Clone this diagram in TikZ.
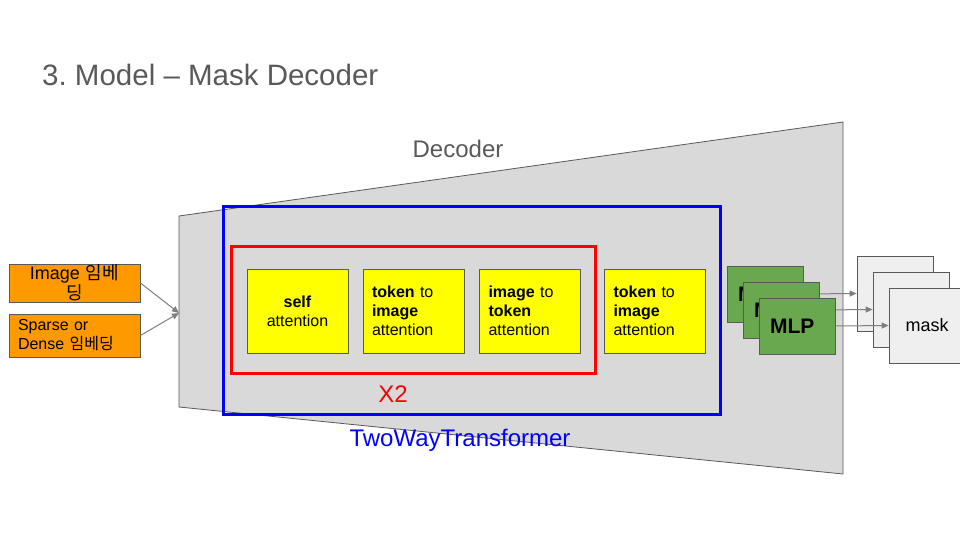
\documentclass[tikz,border=0pt]{standalone}
\usepackage{fontspec}
\setmainfont{Liberation Sans}
\newfontfamily\kofont{Noto Sans CJK KR}
\usetikzlibrary{arrows.meta}
\frenchspacing

\definecolor{slidegray}{HTML}{595959}
\definecolor{decfill}{HTML}{D9D9D9}
\definecolor{inorange}{HTML}{FF9900}
\definecolor{attyellow}{HTML}{FFFF00}
\definecolor{mlpgreen}{HTML}{6AA84F}
\definecolor{maskfill}{HTML}{EFEFEF}
\definecolor{arrowgray}{HTML}{7F7F7F}

\newcommand{\setsize}[2]{\fontsize{#1}{#2}\selectfont}

\tikzset{
  inbox/.style={draw=slidegray, fill=inorange, line width=0.8pt,
    minimum width=131pt, text width=113pt, inner xsep=9pt, inner ysep=0pt},
  attbox/.style={draw=slidegray, fill=attyellow, line width=0.8pt,
    minimum width=101pt, minimum height=84pt, text width=83pt,
    inner xsep=9pt, align=left, font=\setsize{16}{19}},
  mlpbox/.style={draw=slidegray, fill=mlpgreen, line width=0.8pt,
    minimum width=76pt, minimum height=56pt, text width=54pt,
    inner xsep=11pt, align=left, font=\bfseries\setsize{21}{25}},
  maskbox/.style={draw=slidegray, fill=maskfill, line width=0.8pt,
    minimum width=76pt, minimum height=75pt, font=\setsize{18}{22}},
  frame/.style={line width=3pt, inner sep=0pt},
  flow/.style={-{Triangle[length=7pt,width=6pt]}, draw=arrowgray, line width=1pt}
}

\begin{document}
\begin{tikzpicture}[x=1pt,y=-1pt]
  \useasboundingbox (0,0) rectangle (960,540);

  \node[anchor=base west, inner sep=0pt, text=slidegray, font=\setsize{29.5}{35}]
    (title) at (42,86) {3. Model – Mask Decoder};

  % decoder body
  \draw[draw=slidegray, fill=decfill, line width=0.8pt]
    (179,216) -- (843,122) -- (843,474) -- (179,407) -- cycle;
  \node[anchor=base, inner sep=0pt, text=slidegray, font=\setsize{24}{28}]
    (declab) at (458,158) {Decoder};

  \node[frame, draw=blue, minimum width=497pt, minimum height=208pt] (twoway) at (471.5,310) {};
  \node[frame, draw=red, minimum width=364pt, minimum height=127pt] (twice) at (413,309.5) {};
  \node[anchor=base, inner sep=0pt, text=red, font=\setsize{24}{28}] (twicelab) at (393,402) {X2};
  \node[anchor=base, inner sep=0pt, text=blue, font=\setsize{24}{28}] (twowaylab) at (460,446) {TwoWayTransformer};

  \node[attbox, align=center] (self) at (297.5,311) {\textbf{self}\\attention};
  \node[attbox] (tti1) at (413.5,311) {\textbf{token} to\\\textbf{image}\\attention};
  \node[attbox] (itt)  at (530,311)   {\textbf{image} to\\\textbf{token}\\attention};
  \node[attbox] (tti2) at (655,311)   {\textbf{token} to\\\textbf{image}\\attention};

  % inputs
  \node[inbox, minimum height=38pt, align=center, font=\setsize{18}{20}]
    (img) at (74.5,283) {Image {\kofont 임베}\\{\kofont 딩}};
  \node[inbox, minimum height=43pt, align=left, font=\setsize{16}{19}]
    (prm) at (74.5,335.5) {Sparse or\\Dense {\kofont 임베딩}};
  \coordinate (decin) at (179,313);
  \draw[flow] (img.east) -- (decin);
  \draw[flow] (prm.east) -- (decin);

  % outputs
  \node[maskbox] (mask1) at (895,293.5) {mask};
  \node[maskbox] (mask2) at (911,309.5) {mask};
  \node[maskbox] (mask3) at (927,325.5) {mask};
  \node[mlpbox] (mlp1) at (765,294) {MLP};
  \draw[flow] (mlp1.east) -- (mask1.west);
  \node[mlpbox] (mlp2) at (781,310) {MLP};
  \draw[flow] (mlp2.east) -- (mask2.west);
  \node[mlpbox] (mlp3) at (797,326) {MLP};
  \draw[flow] (mlp3.east) -- (mask3.west);
\end{tikzpicture}
\end{document}
